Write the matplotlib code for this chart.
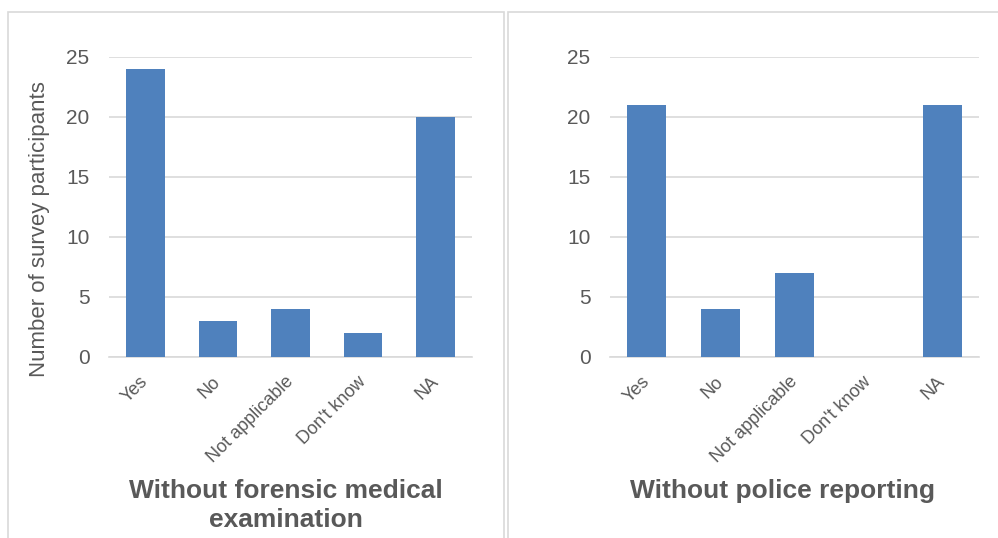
import matplotlib.pyplot as plt
from matplotlib.patches import Rectangle

plt.rcParams['font.family'] = ['Liberation Sans', 'DejaVu Sans']

categories = ['Yes', 'No', 'Not applicable', "Don't know", 'NA']
forensic = [24, 3, 4, 2, 20]
police = [21, 4, 7, 0, 21]
titles = [['Without forensic medical', 'examination'], ['Without police reporting']]
ylabel = 'Number of survey participants'

W, H = 998, 538
bar_color = '#4F81BD'
text_color = '#595959'
grid_color = '#D9D9D9'

fig = plt.figure(figsize=(W / 100, H / 100), dpi=100)

# panel frames
for x0, x1 in [(8, 504), (508, 1010)]:
    fig.add_artist(Rectangle((x0 / W, -0.1), (x1 - x0) / W, (H - 12) / H + 0.1,
                             transform=fig.transFigure, fill=False,
                             edgecolor=grid_color, lw=1.2))

axes_px = [(109, 472), (610, 979)]
title_x = [286, 782]
for (l, r), vals, lines, tx in zip(axes_px, [forensic, police], titles, title_x):
    ax = fig.add_axes([l / W, 181 / H, (r - l) / W, 300 / H])
    x = range(len(categories))
    ax.bar(x, vals, width=0.53, color=bar_color, zorder=3)
    ax.set_xlim(-0.5, len(categories) - 0.5)
    ax.set_ylim(0, 25)
    ax.set_yticks([0, 5, 10, 15, 20, 25])
    ax.grid(axis='y', color=grid_color, lw=1.2, zorder=0)
    for s in ['top', 'right', 'left']:
        ax.spines[s].set_visible(False)
    ax.spines['bottom'].set_color(grid_color)
    ax.spines['bottom'].set_linewidth(1.2)
    ax.tick_params(axis='y', length=0, labelsize=15, colors=text_color, pad=14)
    ax.set_xticks(list(x))
    ax.set_xticklabels(categories, rotation=45, ha='right', va='center',
                       rotation_mode='anchor', fontsize=13, color=text_color)
    ax.tick_params(axis='x', length=0, pad=16)
    for i, line in enumerate(lines):
        fig.text(tx / W, 1 - (491 + 29 * i) / H, line, ha='center', va='center',
                 fontsize=19, fontweight='bold', color=text_color)

fig.text(40 / W, 1 - 229 / H, ylabel, rotation=90, ha='center', va='center',
         fontsize=16, color=text_color)

fig.savefig('out.png', dpi=100)
